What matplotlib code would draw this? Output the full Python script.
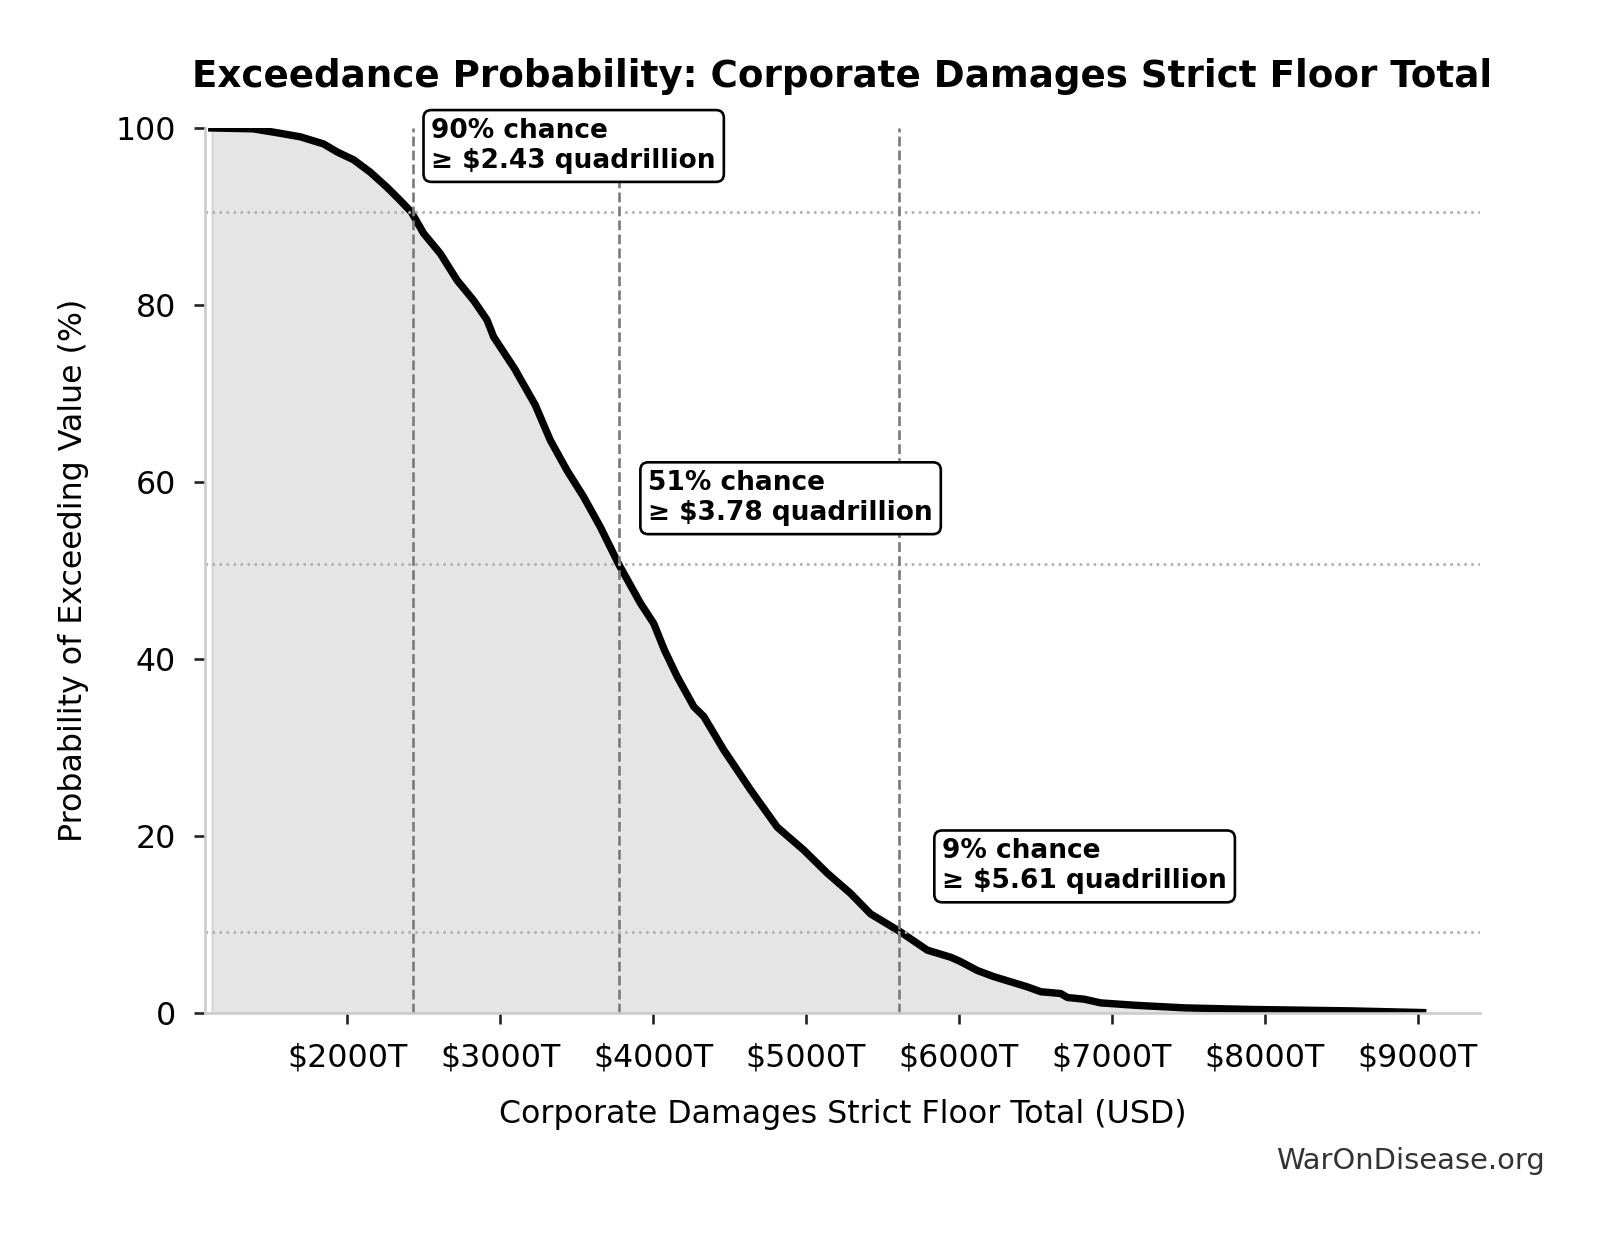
import matplotlib
matplotlib.use("Agg")
from matplotlib import pyplot as plt
from matplotlib.ticker import MultipleLocator, FuncFormatter

# exceedance curve (x in trillions USD, y in %)
damages_trillion = [1116, 1388, 1563, 1694, 1846, 1934, 2043, 2152, 2261, 2348,
                    2420, 2500, 2610, 2719, 2828, 2915, 2958, 3095, 3230, 3329,
                    3438, 3547, 3656, 3776, 3918, 4005, 4075, 4158, 4267, 4332,
                    4463, 4638, 4812, 4986, 5139, 5292, 5422, 5614, 5793, 5946,
                    6011, 6120, 6229, 6447, 6535, 6665, 6709, 6818, 6927, 7145,
                    7472, 7908, 8563, 9031]
exceed_pct = [100.0, 99.9, 99.4, 99.0, 98.2, 97.3, 96.4, 95.0, 93.3, 91.8,
              90.5, 88.1, 85.8, 82.8, 80.5, 78.3, 76.4, 72.8, 68.7, 64.7,
              61.3, 58.3, 54.9, 50.7, 46.3, 44.0, 41.0, 38.0, 34.6, 33.5,
              29.7, 25.2, 21.0, 18.4, 15.8, 13.5, 11.2, 9.2, 7.1, 6.3,
              5.8, 4.8, 4.1, 2.95, 2.4, 2.2, 1.75, 1.56, 1.14, 0.88,
              0.58, 0.40, 0.24, 0.05]

# marked thresholds
marker_values = [2430, 3780, 5610]
marker_probs = [90.5, 50.7, 9.1]
marker_labels = ["90% chance\n\u2265 $2.43 quadrillion",
                 "51% chance\n\u2265 $3.78 quadrillion",
                 "9% chance\n\u2265 $5.61 quadrillion"]

fig = plt.figure(figsize=(1604 / 190, 1234 / 190), dpi=190)
ax = fig.add_axes([0.1278, 0.1791, 0.9227 - 0.1278, 0.8963 - 0.1791])

ax.fill_between(damages_trillion, exceed_pct, 0, color='black', alpha=0.1, linewidth=0.8)
ax.plot(damages_trillion, exceed_pct, color='black', linewidth=2.8, solid_joinstyle='round')

for val, prob, lab in zip(marker_values, marker_probs, marker_labels):
    ax.axvline(val, color='#7a7a7a', linestyle='--', linewidth=1.0)
    ax.axhline(prob, color='#b0b0b0', linestyle=':', linewidth=1.0)
    ax.text(val * 1.05, prob + 4.3, lab, ha='left', va='bottom', fontsize=10,
            fontweight='bold',
            bbox=dict(boxstyle='round,pad=0.3', facecolor='white', edgecolor='black', linewidth=1.0))

ax.set_xlim(min(damages_trillion) * 0.96, max(damages_trillion) * 1.0415)
ax.set_ylim(0, 100)
ax.xaxis.set_major_locator(MultipleLocator(1000))
ax.xaxis.set_major_formatter(FuncFormatter(lambda v, p: f"${v:.0f}T"))

for s in ['top', 'right']:
    ax.spines[s].set_visible(False)
for s in ['left', 'bottom']:
    ax.spines[s].set_color('#cccccc')
    ax.spines[s].set_linewidth(1.0)
ax.tick_params(labelsize=12, pad=7, color='#222222', width=1.0, length=4)

ax.set_xlabel("Corporate Damages Strict Floor Total (USD)", fontsize=12, labelpad=10)
ax.set_ylabel("Probability of Exceeding Value (%)", fontsize=12, labelpad=10)
ax.set_title("Exceedance Probability: Corporate Damages Strict Floor Total",
             fontsize=14.1, fontweight='bold', pad=15.5)

fig.text(0.963, 0.059, "WarOnDisease.org", ha='right', va='center', fontsize=11, color='#333333')

fig.savefig('out.png', dpi=190)
plt.close('all')
